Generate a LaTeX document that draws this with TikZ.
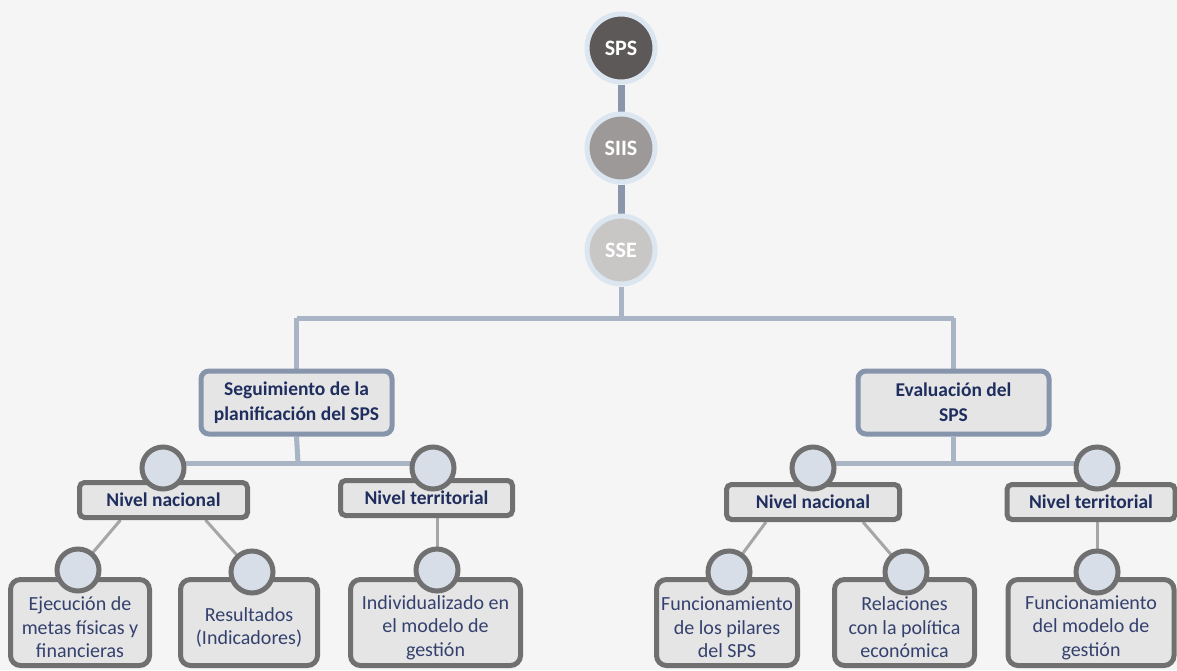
\documentclass[tikz,border=0pt]{standalone}
\usepackage{fontspec}
\setmainfont{Carlito}
\usetikzlibrary{calc}
\pgfdeclarelayer{bg}
\pgfdeclarelayer{lines}
\pgfsetlayers{bg,lines,main}
\definecolor{bgc}{HTML}{F5F5F5}
\definecolor{conn}{HTML}{A9B4C4}
\definecolor{stub}{HTML}{8A97AA}
\definecolor{thin}{HTML}{A6A6A6}
\definecolor{midb}{HTML}{8795AC}
\definecolor{boxf}{HTML}{E5E5E5}
\definecolor{grayb}{HTML}{707070}
\definecolor{cirf}{HTML}{D8DEE8}
\definecolor{navy}{HTML}{1F2E5E}
\definecolor{leaft}{HTML}{34416E}
\definecolor{halo}{HTML}{DCE6F0}
\definecolor{c1}{HTML}{5E5959}
\definecolor{c2}{HTML}{9E9999}
\definecolor{c3}{HTML}{C9C6C6}
\tikzset{
  x=1pt,y=-1pt,
  topc/.style={circle,draw=halo,line width=5pt,minimum size=68pt,inner sep=0pt,
    text=white,font=\fontsize{22}{24}\selectfont\bfseries},
  midbox/.style={rectangle,rounded corners=8pt,draw=midb,fill=boxf,line width=5pt,
    minimum width=191pt,minimum height=63pt,align=center,text=navy,inner sep=1pt,
    font=\fontsize{19.5}{25}\selectfont\bfseries},
  nivbox/.style={rectangle,rounded corners=5pt,draw=grayb,fill=boxf,line width=5pt,
    minimum height=35pt,align=center,text=navy,inner sep=1pt,
    font=\fontsize{19.5}{22}\selectfont\bfseries},
  leafbox/.style={rectangle,rounded corners=10pt,draw=grayb,fill=boxf,line width=5pt,
    minimum height=86pt,align=center,text=leaft,inner sep=0pt,
    font=\fontsize{20}{23.5}\selectfont},
  smc/.style={circle,draw=grayb,fill=cirf,line width=5pt,minimum size=42pt,inner sep=0pt},
  conline/.style={draw=conn,line width=5pt},
  stubline/.style={draw=stub,line width=7pt},
  thinline/.style={draw=thin,line width=3pt},
}
\begin{document}
\begin{tikzpicture}
\begin{pgfonlayer}{bg}
\fill[bgc] (0,0) rectangle (1177,670);
\end{pgfonlayer}
\useasboundingbox (0,0) rectangle (1177,670);
% top circles
\node[topc,fill=c1] (sps) at (621,48) {SPS};
\node[topc,fill=c2] (siis) at (621,148) {SIIS};
\node[topc,fill=c3] (sse) at (621,250) {SSE};
% mid boxes
\node[midbox] (seg) at (296.5,402.5) {Seguimiento de la\\planificación del SPS};
\node[midbox] (eva) at (953.5,402.5) {Evaluación del\\SPS};
% nivel boxes
\node[nivbox,minimum width=168pt] (nnL) at (163.5,500) {Nivel nacional};
\node[nivbox,minimum width=172pt] (ntL) at (426.5,498) {Nivel territorial};
\node[nivbox,minimum width=173pt] (nnR) at (813,502) {Nivel nacional};
\node[nivbox,minimum width=168pt] (ntR) at (1091,502) {Nivel territorial};
% level circles
\node[smc] (cnnL) at (163,468) {};
\node[smc] (cntL) at (433,468) {};
\node[smc] (cnnR) at (813,468) {};
\node[smc] (cntR) at (1097,468) {};
% leaf boxes
\node[leafbox,minimum width=139pt] (lE) at (80,622.5) {\\Ejecución de\\metas físicas y\\financieras};
\node[leafbox,minimum width=137pt] (lR) at (249,622.5) {\\Resultados\\(Indicadores)};
\node[leafbox,minimum width=170pt] (lI) at (435.5,622.5) {\\Individualizado en\\el modelo de\\gestión};
\node[leafbox,minimum width=141pt] (lF) at (727,622.5) {\\Funcionamiento\\de los pilares\\del SPS};
\node[leafbox,minimum width=140pt] (lP) at (904.5,622.5) {\\Relaciones\\con la política\\económica};
\node[leafbox,minimum width=166pt] (lM) at (1091,622.5) {\\Funcionamiento\\del modelo de\\gestión};
% leaf circles
\node[smc] (cE) at (78,570) {};
\node[smc] (cR) at (252,572) {};
\node[smc] (cI) at (437,570) {};
\node[smc] (cF) at (729,572) {};
\node[smc] (cP) at (906,572) {};
\node[smc] (cM) at (1097,572) {};
% connectors
\begin{pgfonlayer}{lines}
\draw[stubline] (sps) -- (siis);
\draw[stubline] (siis) -- (sse);
\coordinate (hub) at (621,318);
\draw[conline] (sse) -- (hub);
\draw[conline] (seg.north |- hub) -- (eva.north |- hub);
\draw[conline] (seg.north |- hub) -- (seg.north);
\draw[conline] (eva.north |- hub) -- (eva.north);
\coordinate (hL) at (298,463);
\coordinate (hR) at (953.5,463);
\draw[conline] (seg.south) -- (hL);
\draw[conline] (cnnL.center |- hL) -- (cntL.center |- hL);
\draw[conline] (eva.south) -- (hR);
\draw[conline] (cnnR.center |- hR) -- (cntR.center |- hR);
\draw[thinline] ($(nnL.south)+(-43,0)$) -- (cE.center);
\draw[thinline] ($(nnL.south)+(42,0)$) -- (cR.center);
\draw[thinline] (ntL.south -| cI.center) -- (cI.center);
\draw[thinline] ($(nnR.south)+(-47,0)$) -- (cF.center);
\draw[thinline] ($(nnR.south)+(50,0)$) -- (cP.center);
\draw[thinline] (ntR.south -| cM.center) -- (cM.center);
\end{pgfonlayer}
\end{tikzpicture}
\end{document}
